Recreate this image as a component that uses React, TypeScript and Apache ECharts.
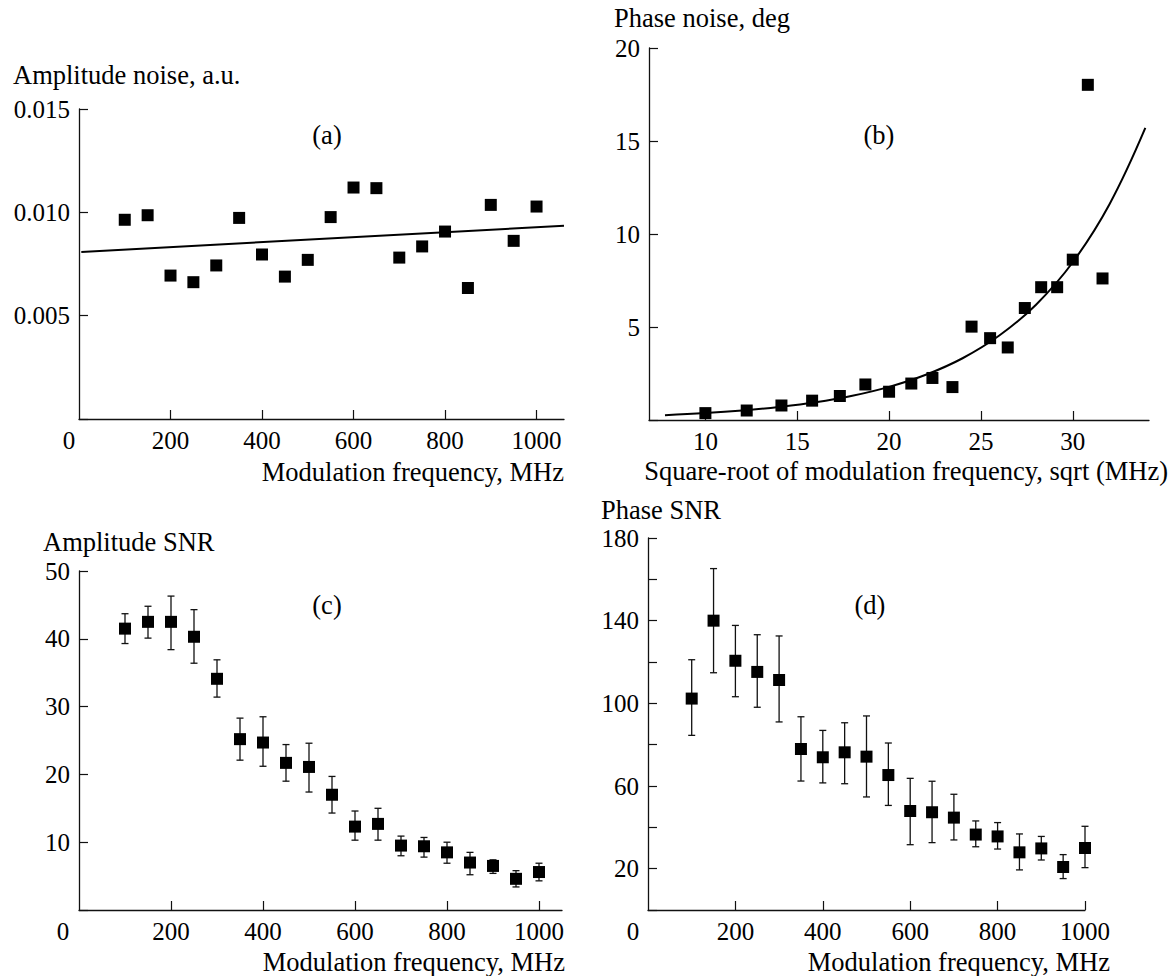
import React, { useEffect, useRef } from "react";
import * as echarts from "echarts";

// ---------- data ----------
const freqMHz = [100, 150, 200, 250, 300, 350, 400, 450, 500, 550, 600, 650, 700, 750, 800, 850, 900, 950, 1000];

// (a) amplitude noise
const ampNoise = [0.00964, 0.00986, 0.00694, 0.00662, 0.00743, 0.00973, 0.00796, 0.00689, 0.0077, 0.00977, 0.0112, 0.01117, 0.00781, 0.00835, 0.00907, 0.00634, 0.01036, 0.00862, 0.01028];
const ampFitX = [5, 1060];
const ampFitY = [0.00808, 0.00935];

// (b) phase noise vs sqrt(freq)
const sqrtFreq = [10, 12.25, 14.14, 15.81, 17.32, 18.71, 20, 21.21, 22.36, 23.45, 24.49, 25.5, 26.46, 27.39, 28.28, 29.15, 30, 30.82, 31.62];
const phaseNoise = [0.37, 0.51, 0.78, 1.04, 1.29, 1.91, 1.52, 1.96, 2.26, 1.77, 5.02, 4.4, 3.9, 6.02, 7.14, 7.14, 8.62, 18.02, 7.61];
const phaseFitX = [7.8, 10, 12, 14, 16, 18, 20, 22, 24, 26, 28, 30, 32, 33.95];
const phaseFitY = [0.26, 0.37, 0.51, 0.7, 0.95, 1.3, 1.78, 2.43, 3.32, 4.54, 6.2, 8.48, 11.6, 15.7];

// (c) amplitude SNR with error bars
const ampSNR = [41.5, 42.5, 42.5, 40.3, 34.1, 25.2, 24.7, 21.7, 21.1, 17.0, 12.3, 12.7, 9.5, 9.4, 8.5, 7.0, 6.5, 4.6, 5.6];
const ampSNRHigh = [43.7, 44.8, 46.3, 44.3, 36.9, 28.3, 28.5, 24.4, 24.6, 19.7, 14.6, 15.0, 10.9, 10.7, 10.0, 8.5, 7.4, 5.8, 6.9];
const ampSNRLow = [39.3, 40.1, 38.4, 36.4, 31.4, 22.1, 21.2, 19.0, 17.4, 14.3, 10.3, 10.3, 8.0, 7.8, 6.9, 5.2, 5.4, 3.4, 4.3];

// (d) phase SNR with error bars
const phaseSNR = [102.3, 140, 120.6, 115.2, 111.3, 77.9, 73.9, 76.3, 74.2, 65.3, 47.9, 47.3, 44.7, 36.5, 35.6, 27.9, 29.8, 20.8, 30];
const phaseSNRHigh = [121.1, 165.2, 137.7, 133.2, 132.6, 93.5, 86.9, 90.6, 93.9, 80.8, 63.7, 62.3, 56, 43.1, 42.3, 36.8, 35.6, 26.8, 40.5];
const phaseSNRLow = [84.5, 114.8, 103.2, 98.1, 91, 62.4, 61.5, 61.1, 54.7, 50.6, 31.6, 32.6, 33.9, 30.6, 29.5, 19.4, 24.2, 15.2, 20.5];

// tick values
const freqTicks = [200, 400, 600, 800, 1000];
const freqLabels = [0, 200, 400, 600, 800, 1000];
const sqrtTicks = [10, 15, 20, 25, 30];

// texts
const titles = {
  a: "Amplitude noise, a.u.",
  b: "Phase noise, deg",
  c: "Amplitude SNR",
  d: "Phase SNR",
};
const xNames = {
  freq: "Modulation frequency, MHz",
  sqrt: "Square-root of modulation frequency, sqrt (MHz)",
};

// ---------- styling ----------
const FONT = "Liberation Serif";
const FS = 25;
const FS_NAME = 26.5;
const INK = "#000";

function makeXAxis(gridIndex: number, min: number, max: number, ticks: number[], labels: number[], zeroPad: number) {
  return {
    type: "value",
    gridIndex,
    min,
    max,
    axisLine: { show: true, onZero: false, lineStyle: { color: "#111", width: 1.3 } },
    axisTick: { show: true, inside: true, length: 9, customValues: ticks, lineStyle: { color: "#111", width: 1.2 } },
    axisLabel: {
      show: true,
      margin: 9,
      customValues: labels,
      color: INK,
      fontFamily: FONT,
      fontSize: FS,
      formatter: (v: number) => (v === 0 ? "{z|0}" : String(v)),
      rich: { z: { padding: [0, zeroPad, 0, 0], fontFamily: FONT, fontSize: FS, color: INK } },
    },
    splitLine: { show: false },
  };
}

function makeYAxis(gridIndex: number, min: number, max: number, interval: number, fmt: (v: number) => string) {
  return {
    type: "value",
    gridIndex,
    min,
    max,
    interval,
    axisLine: { show: true, onZero: false, lineStyle: { color: "#111", width: 1.3 } },
    axisTick: { show: true, inside: true, length: 9, lineStyle: { color: "#111", width: 1.2 } },
    axisLabel: { show: true, margin: 9, color: INK, fontFamily: FONT, fontSize: FS, formatter: fmt },
    splitLine: { show: false },
  };
}

function scatter(xIdx: number, xs: number[], ys: number[]) {
  return {
    type: "scatter",
    xAxisIndex: xIdx,
    yAxisIndex: xIdx,
    symbol: "rect",
    symbolSize: 12,
    itemStyle: { color: "#000", opacity: 1 },
    z: 5,
    data: xs.map((x, i) => [x, ys[i]]),
  };
}

function errorBars(xIdx: number, xs: number[], lo: number[], hi: number[]) {
  return {
    type: "custom",
    xAxisIndex: xIdx,
    yAxisIndex: xIdx,
    z: 4,
    data: xs.map((x, i) => [x, lo[i], hi[i]]),
    renderItem: (params: any, api: any) => {
      const x = api.value(0);
      const pLo = api.coord([x, api.value(1)]);
      const pHi = api.coord([x, api.value(2)]);
      const hw = 3.5;
      const style = { stroke: "#111", lineWidth: 1.3, fill: "none" };
      return {
        type: "group",
        children: [
          { type: "line", shape: { x1: pLo[0], y1: pLo[1], x2: pHi[0], y2: pHi[1] }, style },
          { type: "line", shape: { x1: pHi[0] - hw, y1: pHi[1], x2: pHi[0] + hw, y2: pHi[1] }, style },
          { type: "line", shape: { x1: pLo[0] - hw, y1: pLo[1], x2: pLo[0] + hw, y2: pLo[1] }, style },
        ],
      };
    },
  };
}

function txt(x: number, y: number, text: string, align: string, size: number = FS_NAME) {
  return {
    type: "text",
    x,
    y,
    silent: true,
    style: { text, fill: INK, fontFamily: FONT, fontSize: size, align, verticalAlign: "middle" },
  };
}

export default function App() {
  const ref = useRef<HTMLDivElement>(null);

  useEffect(() => {
    if (!ref.current) return;
    const chart = echarts.init(ref.current, undefined, { renderer: "svg" });

    const option = {
      animation: false,
      backgroundColor: "#fff",
      textStyle: { fontFamily: FONT },
      grid: [
        { left: 79, top: 109, width: 485, height: 310 },
        { left: 649, top: 48, width: 500, height: 372 },
        { left: 79, top: 571, width: 483, height: 339 },
        { left: 648, top: 538, width: 437, height: 372 },
      ],
      xAxis: [
        makeXAxis(0, 0, 1060, freqTicks, freqLabels, 20),
        makeXAxis(1, 6.93, 34.15, sqrtTicks, sqrtTicks, 0),
        makeXAxis(2, 0, 1050, freqTicks, freqLabels, 32),
        makeXAxis(3, 0, 1000, freqTicks, freqLabels, 30),
      ],
      yAxis: [
        makeYAxis(0, 0, 0.015, 0.005, (v) => (v === 0 ? "" : v.toFixed(3))),
        makeYAxis(1, 0, 20, 5, (v) => (v === 0 ? "" : String(v))),
        makeYAxis(2, 0, 50, 10, (v) => (v === 0 ? "" : String(v))),
        makeYAxis(3, 0, 180, 20, (v) => (v % 40 === 20 ? String(v) : "")),
      ],
      series: [
        {
          type: "line",
          xAxisIndex: 0,
          yAxisIndex: 0,
          showSymbol: false,
          lineStyle: { color: "#000", width: 2 },
          data: ampFitX.map((x, i) => [x, ampFitY[i]]),
        },
        scatter(0, freqMHz, ampNoise),
        {
          type: "line",
          xAxisIndex: 1,
          yAxisIndex: 1,
          showSymbol: false,
          smooth: 0.4,
          lineStyle: { color: "#000", width: 2 },
          data: phaseFitX.map((x, i) => [x, phaseFitY[i]]),
        },
        scatter(1, sqrtFreq, phaseNoise),
        errorBars(2, freqMHz, ampSNRLow, ampSNRHigh),
        scatter(2, freqMHz, ampSNR),
        errorBars(3, freqMHz, phaseSNRLow, phaseSNRHigh),
        scatter(3, freqMHz, phaseSNR),
      ],
      graphic: [
        txt(13, 75, titles.a, "left"),
        txt(327, 135, "(a)", "center"),
        txt(564, 472, xNames.freq, "right"),
        txt(614, 18, titles.b, "left"),
        txt(879, 135, "(b)", "center"),
        txt(1168, 471, xNames.sqrt, "right"),
        txt(43, 542, titles.c, "left"),
        txt(327, 605, "(c)", "center"),
        txt(565, 962, xNames.freq, "right"),
        txt(601, 510, titles.d, "left"),
        txt(870, 605, "(d)", "center"),
        txt(1110, 962, xNames.freq, "right"),
      ],
    };

    chart.setOption(option as any);
    return () => chart.dispose();
  }, []);

  return (
    <div
      ref={ref}
      style={{ position: "absolute", left: 0, top: 0, width: 1170, height: 976, background: "#fff" }}
    />
  );
}
